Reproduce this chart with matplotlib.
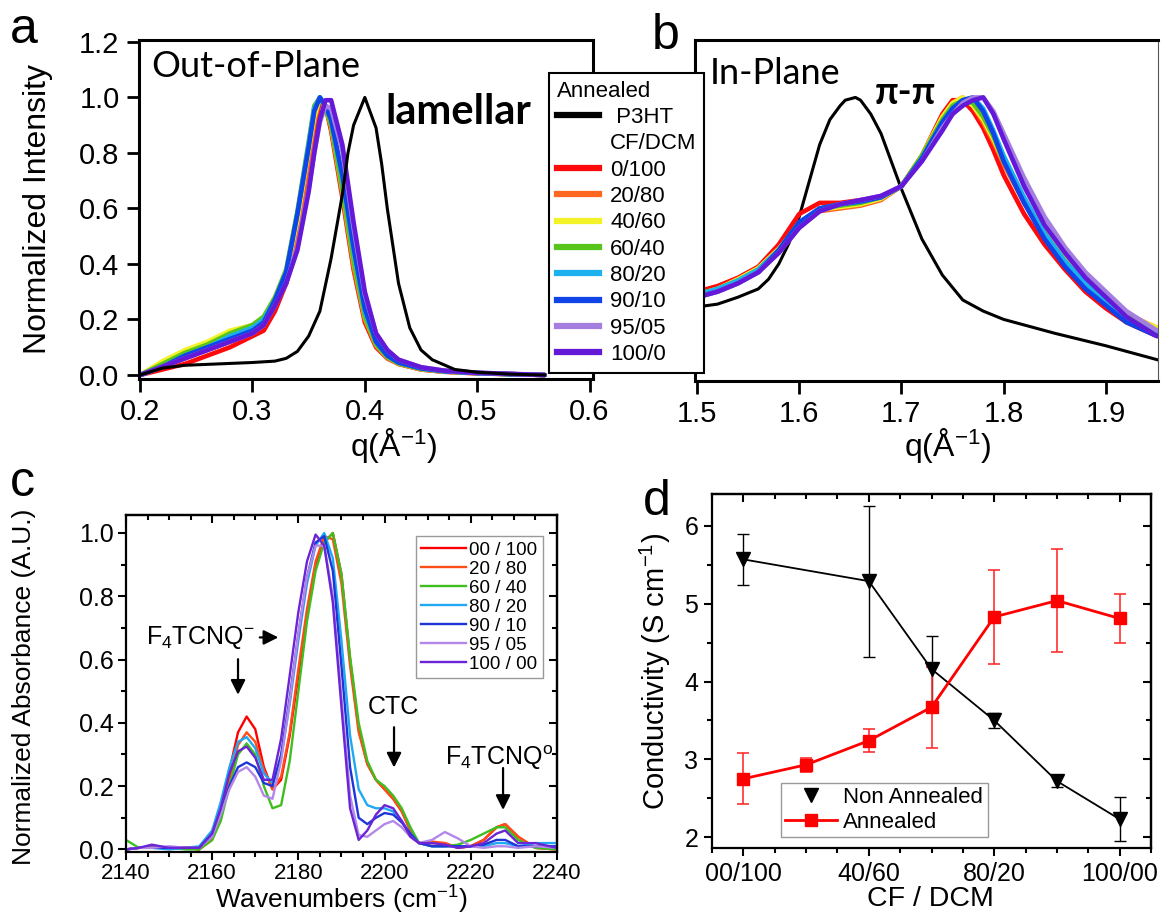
import matplotlib
matplotlib.use("Agg")
import matplotlib.pyplot as plt
from matplotlib.lines import Line2D
from matplotlib.ticker import MultipleLocator, FormatStrFormatter

plt.rcParams["font.family"] = ["Liberation Sans", "DejaVu Sans"]
plt.rcParams["mathtext.fontset"] = "custom"
plt.rcParams["mathtext.rm"] = "Liberation Sans"
plt.rcParams["mathtext.it"] = "Liberation Sans:italic"
plt.rcParams["mathtext.bf"] = "Liberation Sans:bold"
plt.rcParams["mathtext.default"] = "regular"

# ---- panel a: out-of-plane GIWAXS ----
blends = ["0/100", "20/80", "40/60", "60/40", "80/20", "90/10", "95/05", "100/0"]
blend_colors = ["#ff0a0a", "#ff6620", "#f2f226", "#58c51c",
                "#1cb1ee", "#1043e8", "#a57fe0", "#6418d8"]

q_oop_p3ht = [0.20, 0.22, 0.24, 0.27, 0.30, 0.32, 0.33, 0.34, 0.35, 0.36, 0.37, 0.38,
              0.385, 0.39, 0.40, 0.41, 0.415, 0.42, 0.43, 0.44, 0.45, 0.46, 0.48, 0.50,
              0.53, 0.56]
oop_p3ht = [0.0, 0.025, 0.035, 0.04, 0.045, 0.05, 0.06, 0.085, 0.14, 0.23, 0.42, 0.65,
            0.80, 0.90, 1.0, 0.89, 0.76, 0.60, 0.33, 0.17, 0.09, 0.055, 0.02, 0.01,
            0.003, 0.0]

q_oop = [0.20, 0.22, 0.24, 0.26, 0.28, 0.30, 0.31, 0.32, 0.33, 0.34, 0.35, 0.355, 0.36,
         0.365, 0.37, 0.38, 0.39, 0.40, 0.41, 0.42, 0.43, 0.45, 0.47, 0.50, 0.53, 0.56]
oop_0_100 = [0.0, 0.02, 0.04, 0.07, 0.10, 0.14, 0.16, 0.23, 0.33, 0.50, 0.74, 0.88, 0.99,
             0.97, 0.88, 0.64, 0.38, 0.19, 0.10, 0.06, 0.04, 0.02, 0.012, 0.006, 0.003, 0.0]
oop_20_80 = [0.0, 0.03, 0.06, 0.09, 0.12, 0.15, 0.18, 0.25, 0.35, 0.53, 0.78, 0.91, 1.0,
             0.97, 0.89, 0.65, 0.39, 0.20, 0.105, 0.062, 0.04, 0.02, 0.012, 0.006, 0.003, 0.0]
oop_40_60 = [0.0, 0.05, 0.09, 0.12, 0.16, 0.18, 0.21, 0.27, 0.37, 0.56, 0.81, 0.93, 1.0,
             0.97, 0.90, 0.67, 0.41, 0.21, 0.11, 0.065, 0.042, 0.022, 0.013, 0.007, 0.003, 0.0]
oop_60_40 = [0.0, 0.04, 0.08, 0.11, 0.15, 0.18, 0.21, 0.28, 0.38, 0.59, 0.84, 0.97, 1.0,
             0.96, 0.90, 0.67, 0.41, 0.21, 0.11, 0.065, 0.042, 0.022, 0.013, 0.007, 0.003, 0.0]
oop_80_20 = [0.0, 0.03, 0.07, 0.10, 0.14, 0.17, 0.20, 0.27, 0.37, 0.58, 0.83, 0.96, 1.0,
             0.97, 0.92, 0.71, 0.45, 0.23, 0.12, 0.07, 0.045, 0.024, 0.014, 0.007, 0.003, 0.0]
oop_90_10 = [0.0, 0.03, 0.07, 0.10, 0.13, 0.16, 0.19, 0.27, 0.37, 0.58, 0.82, 0.95, 1.0,
             0.97, 0.92, 0.72, 0.46, 0.24, 0.12, 0.07, 0.045, 0.024, 0.014, 0.007, 0.003, 0.0]
oop_95_05 = [0.0, 0.03, 0.06, 0.09, 0.12, 0.15, 0.18, 0.25, 0.33, 0.46, 0.67, 0.80, 0.91,
             0.97, 0.96, 0.81, 0.53, 0.29, 0.15, 0.09, 0.055, 0.028, 0.016, 0.008, 0.004, 0.0]
oop_100_0 = [0.0, 0.03, 0.06, 0.09, 0.12, 0.15, 0.18, 0.25, 0.33, 0.45, 0.66, 0.80, 0.92,
             0.99, 0.99, 0.83, 0.55, 0.30, 0.15, 0.09, 0.055, 0.028, 0.016, 0.008, 0.004, 0.0]

# ---- panel b: in-plane GIWAXS ----
q_ip_p3ht = [1.50, 1.52, 1.54, 1.56, 1.57, 1.58, 1.59, 1.60, 1.61, 1.62, 1.63, 1.64,
             1.645, 1.65, 1.655, 1.66, 1.67, 1.68, 1.69, 1.70, 1.72, 1.74, 1.76, 1.78,
             1.80, 1.85, 1.90, 1.95]
ip_p3ht = [0.245, 0.255, 0.28, 0.31, 0.345, 0.40, 0.475, 0.57, 0.70, 0.83, 0.92, 0.97,
           0.99, 0.995, 1.0, 0.99, 0.94, 0.87, 0.77, 0.67, 0.49, 0.36, 0.27, 0.23,
           0.20, 0.15, 0.105, 0.055]

q_ip = [1.50, 1.52, 1.54, 1.56, 1.58, 1.60, 1.62, 1.64, 1.66, 1.68, 1.70, 1.72, 1.74,
        1.75, 1.76, 1.77, 1.78, 1.79, 1.80, 1.82, 1.84, 1.86, 1.88, 1.90, 1.92, 1.95]
ip_0_100 = [0.30, 0.32, 0.35, 0.39, 0.47, 0.58, 0.62, 0.62, 0.63, 0.64, 0.68, 0.79, 0.94,
            0.99, 0.99, 0.95, 0.89, 0.81, 0.72, 0.58, 0.47, 0.38, 0.30, 0.24, 0.19, 0.14]
ip_20_80 = [0.29, 0.31, 0.34, 0.38, 0.45, 0.54, 0.59, 0.60, 0.61, 0.63, 0.68, 0.79, 0.93,
            0.98, 1.00, 0.97, 0.91, 0.84, 0.76, 0.62, 0.51, 0.41, 0.33, 0.27, 0.22, 0.17]
ip_40_60 = [0.29, 0.31, 0.345, 0.385, 0.455, 0.54, 0.595, 0.605, 0.615, 0.635, 0.68, 0.79,
            0.93, 0.98, 1.00, 0.97, 0.92, 0.85, 0.77, 0.63, 0.52, 0.42, 0.34, 0.28, 0.22, 0.17]
ip_60_40 = [0.29, 0.31, 0.34, 0.38, 0.45, 0.54, 0.60, 0.61, 0.62, 0.64, 0.68, 0.79, 0.92,
            0.97, 0.99, 0.98, 0.93, 0.86, 0.77, 0.63, 0.51, 0.41, 0.33, 0.27, 0.21, 0.16]
ip_80_20 = [0.29, 0.31, 0.34, 0.38, 0.45, 0.55, 0.60, 0.615, 0.625, 0.64, 0.68, 0.78, 0.91,
            0.96, 0.99, 1.00, 0.96, 0.88, 0.79, 0.64, 0.51, 0.41, 0.33, 0.26, 0.20, 0.15]
ip_90_10 = [0.28, 0.30, 0.33, 0.37, 0.45, 0.55, 0.60, 0.615, 0.625, 0.64, 0.68, 0.78, 0.91,
            0.96, 0.99, 1.00, 0.95, 0.87, 0.77, 0.62, 0.49, 0.39, 0.31, 0.25, 0.19, 0.14]
ip_95_05 = [0.28, 0.30, 0.33, 0.37, 0.44, 0.53, 0.59, 0.615, 0.63, 0.645, 0.68, 0.77, 0.89,
            0.94, 0.98, 1.00, 1.00, 0.95, 0.87, 0.71, 0.57, 0.46, 0.37, 0.30, 0.23, 0.16]
ip_100_0 = [0.28, 0.30, 0.33, 0.37, 0.44, 0.53, 0.59, 0.615, 0.63, 0.645, 0.68, 0.77, 0.88,
            0.94, 0.97, 0.99, 1.00, 0.94, 0.85, 0.68, 0.54, 0.44, 0.35, 0.28, 0.21, 0.14]

# ---- panel c: FTIR ----
ftir_labels = ["00 / 100", "20 / 80", "60 / 40", "80 / 20", "90 / 10", "95 / 05", "100 / 00"]
ftir_colors = ["#ff0000", "#ff4d1a", "#3fbf1f", "#20a8f0", "#1f35d8", "#b388e8", "#6b24d6"]
wn = [2140, 2143, 2146, 2150, 2154, 2157, 2160, 2162, 2164, 2166, 2168, 2170, 2172, 2174,
      2176, 2178, 2180, 2182, 2184, 2186, 2188, 2190, 2192, 2194, 2196, 2198, 2200, 2202,
      2204, 2206, 2208, 2211, 2214, 2217, 2220, 2223, 2226, 2228, 2231, 2235, 2240]
abs_00_100 = [0.0, 0.005, 0.01, 0.005, 0.005, 0.0, 0.04, 0.12, 0.25, 0.37, 0.42, 0.38, 0.26,
              0.19, 0.22, 0.36, 0.55, 0.74, 0.90, 0.97, 1.0, 0.87, 0.60, 0.38, 0.27, 0.22,
              0.19, 0.16, 0.12, 0.06, 0.02, 0.02, 0.02, 0.005, 0.01, 0.03, 0.07, 0.08, 0.04,
              0.005, 0.0]
abs_20_80 = [0.0, 0.005, 0.005, 0.005, 0.005, 0.0, 0.03, 0.10, 0.22, 0.33, 0.37, 0.34, 0.25,
             0.19, 0.23, 0.37, 0.57, 0.76, 0.91, 0.99, 0.98, 0.84, 0.58, 0.37, 0.27, 0.22,
             0.19, 0.16, 0.12, 0.06, 0.02, 0.025, 0.02, 0.005, 0.01, 0.03, 0.07, 0.08, 0.04,
             0.005, 0.0]
abs_60_40 = [0.03, 0.005, 0.005, 0.005, 0.0, 0.0, 0.03, 0.09, 0.20, 0.30, 0.335, 0.30, 0.20,
             0.13, 0.14, 0.28, 0.50, 0.72, 0.88, 0.97, 1.0, 0.87, 0.61, 0.40, 0.28, 0.22,
             0.20, 0.17, 0.13, 0.07, 0.02, 0.01, 0.01, 0.015, 0.03, 0.05, 0.07, 0.07, 0.03,
             0.005, 0.0]
abs_80_20 = [0.0, 0.005, 0.005, 0.0, 0.005, 0.01, 0.06, 0.15, 0.26, 0.34, 0.355, 0.32, 0.24,
             0.21, 0.29, 0.46, 0.66, 0.84, 0.96, 1.0, 0.92, 0.66, 0.36, 0.19, 0.14, 0.13,
             0.13, 0.12, 0.09, 0.05, 0.02, 0.01, 0.01, 0.01, 0.01, 0.01, 0.02, 0.02, 0.01,
             0.02, 0.02]
abs_90_10 = [0.0, 0.005, 0.005, 0.005, 0.005, 0.005, 0.05, 0.12, 0.20, 0.26, 0.275, 0.26, 0.21,
             0.20, 0.30, 0.48, 0.68, 0.86, 0.97, 0.99, 0.88, 0.58, 0.26, 0.10, 0.08, 0.10,
             0.115, 0.11, 0.085, 0.05, 0.02, 0.01, 0.01, 0.01, 0.01, 0.015, 0.03, 0.03, 0.01,
             0.01, 0.01]
abs_95_05 = [0.0, 0.005, 0.005, 0.01, 0.005, 0.005, 0.04, 0.11, 0.19, 0.245, 0.26, 0.23, 0.17,
             0.16, 0.28, 0.47, 0.68, 0.86, 0.96, 0.96, 0.80, 0.48, 0.17, 0.045, 0.04, 0.06,
             0.08, 0.09, 0.07, 0.04, 0.02, 0.03, 0.055, 0.035, 0.01, 0.005, 0.01, 0.01, 0.005,
             0.01, 0.005]
abs_100_00 = [0.0, 0.005, 0.015, 0.005, 0.005, 0.005, 0.05, 0.13, 0.24, 0.31, 0.325, 0.29, 0.22,
              0.22, 0.35, 0.55, 0.75, 0.91, 0.995, 0.96, 0.78, 0.45, 0.13, 0.03, 0.06, 0.11,
              0.14, 0.13, 0.09, 0.04, 0.02, 0.02, 0.015, 0.005, 0.01, 0.02, 0.05, 0.06, 0.02,
              0.02, 0.005]

# ---- panel d: conductivity ----
cf_dcm_ticks = ["00/100", "40/60", "80/20", "100/00"]
nonann_pos = [0, 2, 3, 4, 5, 6]
nonann_val = [5.57, 5.29, 4.16, 3.50, 2.72, 2.23]
nonann_err = [0.33, 0.97, 0.43, 0.10, 0.08, 0.28]
ann_pos = [0, 1, 2, 3, 4, 5, 6]
ann_val = [2.75, 2.93, 3.24, 3.67, 4.83, 5.04, 4.81]
ann_err = [0.33, 0.09, 0.15, 0.52, 0.60, 0.66, 0.32]

callout = ["Lato", "DejaVu Sans"]

fig = plt.figure(figsize=(11.61, 9.15), dpi=100)

# ---------- a ----------
ax_a = fig.add_axes([0.1197, 0.5858, 0.3910, 0.3705])
oop_curves = [oop_0_100, oop_20_80, oop_40_60, oop_60_40,
              oop_80_20, oop_90_10, oop_95_05, oop_100_0]
for y, c in zip(oop_curves, blend_colors):
    ax_a.plot(q_oop, y, color=c, lw=3.3, solid_capstyle="round")
ax_a.plot(q_oop_p3ht, oop_p3ht, color="k", lw=2.2)
ax_a.set_xlim(0.199, 0.603)
ax_a.set_ylim(-0.0144, 1.207)
ax_a.set_xticks([0.2, 0.3, 0.4, 0.5, 0.6])
ax_a.set_yticks([0.0, 0.2, 0.4, 0.6, 0.8, 1.0, 1.2])
ax_a.xaxis.set_major_formatter(FormatStrFormatter("%.1f"))
ax_a.yaxis.set_major_formatter(FormatStrFormatter("%.1f"))
ax_a.tick_params(direction="out", length=9, width=2, labelsize=21, pad=5)
for s in ax_a.spines.values():
    s.set_linewidth(2.2)
ax_a.set_ylabel("Normalized Intensity", fontsize=23, va="center")
ax_a.yaxis.set_label_coords(-0.2225, 0.5)
ax_a.set_xlabel("q(Å$^{-1}$)", fontsize=23, va="center")
ax_a.xaxis.set_label_coords(0.56, -0.197)
ax_a.text(0.026, 0.89, "Out-of-Plane", transform=ax_a.transAxes, fontsize=26,
          family=callout, va="baseline")
ax_a.text(0.542, 0.752, "lamellar", transform=ax_a.transAxes, fontsize=30,
          family=callout, weight="bold", va="baseline")

# ---------- b ----------
ax_b = fig.add_axes([0.5986, 0.5836, 0.3988, 0.3727])
ax_b.plot(q_ip_p3ht, ip_p3ht, color="k", lw=2.2)
ip_curves = [ip_0_100, ip_20_80, ip_40_60, ip_60_40,
             ip_80_20, ip_90_10, ip_95_05, ip_100_0]
for y, c in zip(ip_curves, blend_colors):
    ax_b.plot(q_ip, y, color=c, lw=3.3, solid_capstyle="round")
ax_b.set_xlim(1.498, 1.951)
ax_b.set_ylim(-0.022, 1.207)
ax_b.set_xticks([1.5, 1.6, 1.7, 1.8, 1.9])
ax_b.xaxis.set_major_formatter(FormatStrFormatter("%.1f"))
ax_b.set_yticks([])
ax_b.tick_params(direction="out", length=9, width=2, labelsize=21, pad=5)
for s in ax_b.spines.values():
    s.set_linewidth(2.2)
ax_b.spines["right"].set_linewidth(0.8)
ax_b.spines["right"].set_color("#555555")
ax_b.set_xlabel("q(Å$^{-1}$)", fontsize=23, va="center")
ax_b.xaxis.set_label_coords(0.545, -0.19)
ax_b.text(0.032, 0.871, "In-Plane", transform=ax_b.transAxes, fontsize=26,
          family=callout, va="baseline")
ax_b.text(0.389, 0.812, "π-π", transform=ax_b.transAxes, fontsize=27,
          family=callout, weight="bold", va="baseline")

# legend shared by a and b
leg_handles = [Line2D([], [], color="k", lw=4.5), Line2D([], [], color="none")]
leg_handles += [Line2D([], [], color=c, lw=4.5) for c in blend_colors]
leg = fig.legend(leg_handles, [" P3HT", "CF/DCM"] + blends, title="Annealed",
                 loc="upper left", bbox_to_anchor=(549 / 1161, 1 - 73 / 915),
                 fontsize=16, title_fontsize=16, handlelength=1.9,
                 handletextpad=0.5, labelspacing=0.24, borderpad=0.35,
                 borderaxespad=0, fancybox=False, edgecolor="k", framealpha=1,
                 alignment="left")
leg.get_frame().set_linewidth(1.5)

# ---------- c ----------
ax_c = fig.add_axes([0.1085, 0.0689, 0.3712, 0.3683])
abs_curves = [abs_00_100, abs_20_80, abs_60_40, abs_80_20, abs_90_10, abs_95_05, abs_100_00]
for y, c, lab in zip(abs_curves, ftir_colors, ftir_labels):
    ax_c.plot(wn, y, color=c, lw=1.7, label=lab)
ax_c.set_xlim(2140, 2240)
ax_c.set_ylim(-0.008, 1.057)
ax_c.xaxis.set_major_locator(MultipleLocator(20))
ax_c.xaxis.set_minor_locator(MultipleLocator(5))
ax_c.yaxis.set_major_locator(MultipleLocator(0.2))
ax_c.yaxis.set_minor_locator(MultipleLocator(0.1))
ax_c.yaxis.set_major_formatter(FormatStrFormatter("%.1f"))
ax_c.tick_params(which="both", direction="out", width=1.5, pad=3)
ax_c.tick_params(which="major", length=6)
ax_c.tick_params(which="minor", length=3.5)
ax_c.tick_params(axis="x", labelsize=16, pad=2)
ax_c.tick_params(axis="y", labelsize=18)
for s in ax_c.spines.values():
    s.set_linewidth(1.6)
top_c = ax_c.secondary_xaxis("top")
top_c.xaxis.set_major_locator(MultipleLocator(20))
top_c.xaxis.set_minor_locator(MultipleLocator(5))
top_c.tick_params(which="both", direction="in", width=1.5, labeltop=False)
top_c.tick_params(which="major", length=6)
top_c.tick_params(which="minor", length=3.5)
right_c = ax_c.secondary_yaxis("right")
right_c.yaxis.set_major_locator(MultipleLocator(0.2))
right_c.yaxis.set_minor_locator(MultipleLocator(0.1))
right_c.tick_params(which="both", direction="in", width=1.5, labelright=False)
right_c.tick_params(which="major", length=6)
right_c.tick_params(which="minor", length=3.5)
for sec in (top_c, right_c):
    for s in sec.spines.values():
        s.set_linewidth(1.6)
ax_c.set_ylabel("Normalized Absorbance (A.U.)", fontsize=19, va="center")
ax_c.yaxis.set_label_coords(-0.237, 0.49)
ax_c.set_xlabel("Wavenumbers (cm$^{-1}$)", fontsize=19, va="center")
ax_c.xaxis.set_label_coords(0.5, -0.143)
ax_c.legend(loc="upper right", bbox_to_anchor=(0.9675, 0.9377), borderaxespad=0,
            fontsize=13.5, handlelength=2.4, handletextpad=0.15, labelspacing=0.1,
            borderpad=0.3, fancybox=False, edgecolor="#999999", framealpha=1)
arrow = dict(arrowstyle="-|>", color="k", lw=1.6, mutation_scale=22)
ax_c.text(2144.6, 0.67, "F$_4$TCNQ$^{-}$", fontsize=18, va="center")
ax_c.annotate("", xy=(2176, 0.67), xytext=(2170.4, 0.67), arrowprops=arrow)
ax_c.annotate("", xy=(2166, 0.48), xytext=(2166, 0.61), arrowprops=arrow)
ax_c.text(2202, 0.45, "CTC", fontsize=18, ha="center", va="center")
ax_c.annotate("", xy=(2202.2, 0.25), xytext=(2202.2, 0.395), arrowprops=arrow)
ax_c.text(2214, 0.29, "F$_4$TCNQ$^{o}$", fontsize=18, va="center")
ax_c.annotate("", xy=(2227.5, 0.116), xytext=(2227.5, 0.266), arrowprops=arrow)

# ---------- d ----------
ax_d = fig.add_axes([0.6133, 0.0732, 0.3781, 0.3869])
ax_d.errorbar(nonann_pos, nonann_val, yerr=nonann_err, color="k", lw=1.3, marker="v",
              ms=10, capsize=4, elinewidth=1, capthick=1)
ax_d.errorbar(ann_pos, ann_val, yerr=ann_err, color="#ff0000", ecolor="#ff3030", lw=2,
              marker="s", ms=8, capsize=4, elinewidth=1.2, capthick=1.2)
ax_d.set_xlim(-0.5, 6.5)
ax_d.set_ylim(1.86, 6.41)
ax_d.set_xticks([0, 2, 4, 6])
ax_d.set_xticklabels(cf_dcm_ticks)
ax_d.xaxis.set_minor_locator(MultipleLocator(0.5))
ax_d.yaxis.set_major_locator(MultipleLocator(1))
ax_d.yaxis.set_minor_locator(MultipleLocator(0.5))
ax_d.tick_params(which="both", direction="out", width=1.5, labelsize=18, pad=4)
ax_d.tick_params(which="major", length=6)
ax_d.tick_params(which="minor", length=3.5)
for s in ax_d.spines.values():
    s.set_linewidth(1.6)
top_d = ax_d.secondary_xaxis("top")
top_d.set_xticks([0, 2, 4, 6])
top_d.xaxis.set_minor_locator(MultipleLocator(0.5))
top_d.tick_params(which="both", direction="in", width=1.5, labeltop=False)
top_d.tick_params(which="major", length=6)
top_d.tick_params(which="minor", length=3.5)
right_d = ax_d.secondary_yaxis("right")
right_d.yaxis.set_major_locator(MultipleLocator(1))
right_d.yaxis.set_minor_locator(MultipleLocator(0.5))
right_d.tick_params(which="both", direction="in", width=1.5, labelright=False)
right_d.tick_params(which="major", length=6)
right_d.tick_params(which="minor", length=3.5)
for sec in (top_d, right_d):
    for s in sec.spines.values():
        s.set_linewidth(1.6)
ax_d.set_ylabel("Conductivity (S cm$^{-1}$)", fontsize=21, va="center")
ax_d.yaxis.set_label_coords(-0.128, 0.5)
ax_d.set_xlabel("CF / DCM", fontsize=20.5, va="center")
ax_d.xaxis.set_label_coords(0.497, -0.145)
d_handles = [Line2D([], [], ls="none", marker="v", color="k", ms=10),
             Line2D([], [], color="#ff0000", lw=2, marker="s", ms=8)]
ax_d.legend(d_handles, ["Non Annealed", "Annealed"], loc="lower left",
            bbox_to_anchor=(0.157, 0.031), borderaxespad=0, fontsize=16,
            handlelength=2.3, handletextpad=0.3, labelspacing=0.15, borderpad=0.2,
            fancybox=False, edgecolor="#999999", framealpha=1)

# panel letters
fig.text(0.0086, 0.953, "a", fontsize=36, va="baseline")
fig.text(0.561, 0.946, "b", fontsize=36, va="baseline")
fig.text(0.0086, 0.458, "c", fontsize=36, va="baseline")
fig.text(0.5538, 0.437, "d", fontsize=36, va="baseline")

fig.savefig("out.png", dpi=100)
